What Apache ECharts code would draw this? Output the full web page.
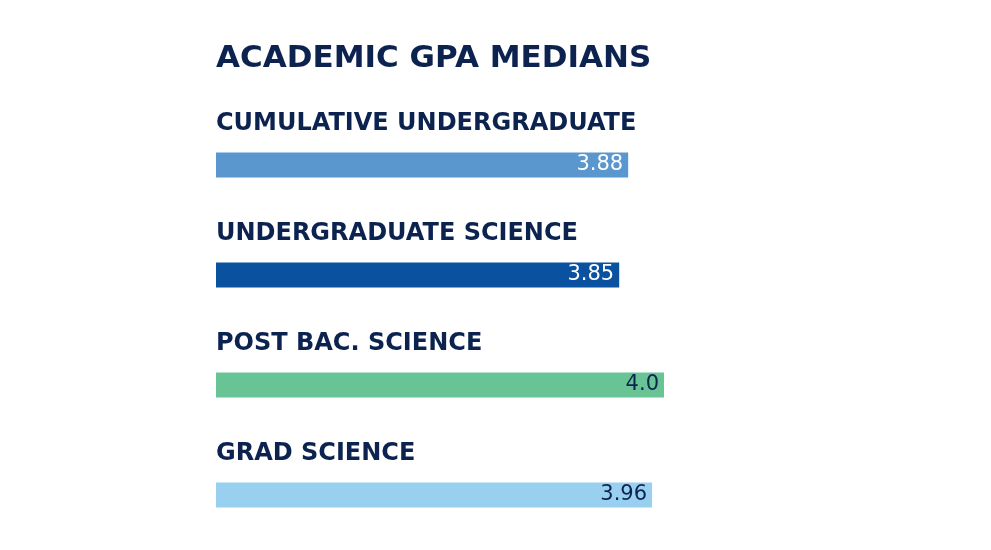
<!DOCTYPE html>
<html>
<head>
<meta charset="utf-8">
<script src="https://cdn.jsdelivr.net/npm/echarts@6/dist/echarts.min.js"></script>
<style>
  html, body { margin: 0; padding: 0; background: #fff; }
  #main { width: 991px; height: 550px; }
</style>
</head>
<body>
<div id="main"></div>
<script>
var categories = ['CUMULATIVE UNDERGRADUATE', 'UNDERGRADUATE SCIENCE', 'POST BAC. SCIENCE', 'GRAD SCIENCE'];
var values = [3.88, 3.85, 4.0, 3.96];
var valueLabels = ['3.88', '3.85', '4.0', '3.96'];
var barColors = ['#5b97cf', '#0a52a0', '#68c495', '#99d0f0'];
var labelColors = ['#ffffff', '#ffffff', '#0c2350', '#0c2350'];

var myChart = echarts.init(document.getElementById('main'));

var option = {
    backgroundColor: '#ffffff',
    title: {
        text: 'ACADEMIC GPA MEDIANS',
        left: 211,
        top: 38,
        textStyle: {
            fontFamily: 'DejaVu Sans',
            fontWeight: 'bold',
            fontSize: 31,
            color: '#0c2350'
        }
    },
    grid: {
        left: 216,
        width: 448,
        top: 110,
        height: 440
    },
    xAxis: {
        type: 'value',
        min: 2.5,
        max: 4.0,
        show: false
    },
    yAxis: {
        type: 'category',
        data: categories,
        inverse: true,
        axisLine: { show: false },
        axisTick: { show: false },
        axisLabel: {
            inside: true,
            margin: 0,
            verticalAlign: 'bottom',
            padding: [0, 0, 29, 0],
            fontFamily: 'DejaVu Sans',
            fontWeight: 'bold',
            fontSize: 24,
            color: '#0c2350'
        }
    },
    series: [{
        type: 'bar',
        barWidth: 25,
        z: 1,
        data: values.map(function (v, i) {
            return {
                value: v,
                itemStyle: { color: barColors[i] },
                label: { color: labelColors[i] }
            };
        }),
        label: {
            show: true,
            position: 'insideRight',
            distance: 5,
            fontFamily: 'DejaVu Sans',
            fontSize: 21,
            formatter: function (p) { return valueLabels[p.dataIndex]; }
        }
    }]
};

option && myChart.setOption(option);
</script>
</body>
</html>
